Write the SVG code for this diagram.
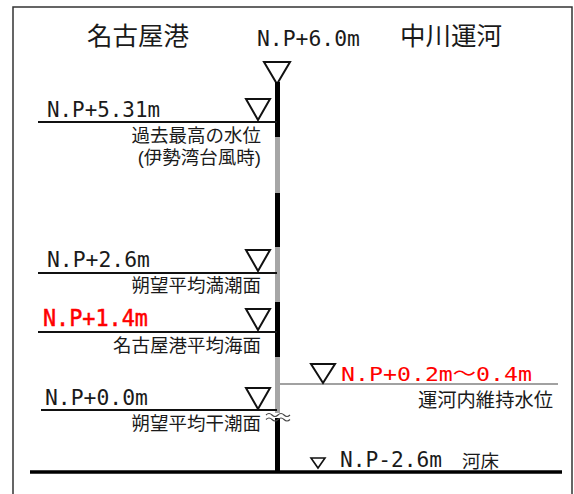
<svg xmlns="http://www.w3.org/2000/svg" width="574" height="494" viewBox="0 0 574 494">
<style>
.jp{font-family:"Noto Sans CJK JP","Noto Sans CJK SC",sans-serif;fill:#1a1a1a}
.jpc{font-family:"Liberation Sans","Noto Sans CJK JP","Noto Sans CJK SC",sans-serif;fill:#1a1a1a}
.np{font-family:"DejaVu Sans Mono","Noto Sans CJK JP",monospace;fill:#1a1a1a}
.red{fill:#ff0000}
.tri{fill:#fff;stroke:#111;stroke-width:2;stroke-linejoin:miter}
.lvl{stroke:#111;stroke-width:2}
.thin{stroke:#444;stroke-width:1.2}
</style>
<rect width="574" height="494" fill="#fff"/>
<rect x="13" y="7" width="559" height="500" fill="none" stroke="#333" stroke-width="1.5"/>

<g id="titles">
<text class="jp" x="87" y="45" font-size="25.5">名古屋港</text>
<text class="jp" x="400" y="45" font-size="25.5">中川運河</text>
<text class="np" x="257" y="46" font-size="22" textLength="103" lengthAdjust="spacingAndGlyphs">N.P+6.0m</text>
<polygon class="tri" points="264,62 290,62 277,84"/>
</g>

<g id="wall">
<rect x="275" y="82" width="5" height="55" fill="#000"/>
<rect x="275" y="137" width="5" height="56" fill="#a6a6a6"/>
<rect x="275" y="193" width="5" height="54" fill="#000"/>
<rect x="275" y="247" width="5" height="55" fill="#a6a6a6"/>
<rect x="275" y="302" width="5" height="55" fill="#000"/>
<rect x="275" y="357" width="5" height="56" fill="#a6a6a6"/>
<rect x="275" y="418" width="5" height="55" fill="#000"/>
<path d="M266,415 q3,-3 6,0 t6,0 t6,0 t6,0 M266,419.5 q3,-3 6,0 t6,0 t6,0 t6,0" fill="none" stroke="#444" stroke-width="1.1"/>
</g>

<g id="connectors">
<line class="lvl" x1="38" y1="122" x2="277" y2="122"/>
<line class="lvl" x1="38" y1="273" x2="277" y2="273"/>
<line class="lvl" x1="38" y1="332" x2="277" y2="332"/>
<line class="lvl" x1="41" y1="410" x2="277" y2="410"/>
<line class="thin" x1="280" y1="384" x2="558" y2="384"/>
<line stroke="#000" stroke-width="3.5" x1="30" y1="472" x2="562" y2="472"/>
</g>

<g id="level-531">
<polygon class="tri" points="246,99 270,99 258,120"/>
<text class="np" x="47" y="117" font-size="22" textLength="113" lengthAdjust="spacingAndGlyphs">N.P+5.31m</text>
<text class="jpc" x="261" y="141.5" font-size="18.5" text-anchor="end">過去最高の水位</text>
<text class="jpc" x="261" y="164" font-size="18.5" text-anchor="end">(伊勢湾台風時)</text>
</g>

<g id="level-26">
<polygon class="tri" points="246,250 270,250 258,271"/>
<text class="np" x="47" y="267" font-size="22" textLength="103" lengthAdjust="spacingAndGlyphs">N.P+2.6m</text>
<text class="jp" x="261" y="291.5" font-size="18.5" text-anchor="end">朔望平均満潮面</text>
</g>

<g id="level-14">
<polygon class="tri" points="246,309 270,309 258,330"/>
<text class="np red" x="43" y="326" font-size="23" textLength="105" lengthAdjust="spacingAndGlyphs" stroke="#ff0000" stroke-width="0.5">N.P+1.4m</text>
<text class="jp" x="261" y="351.5" font-size="18.5" text-anchor="end">名古屋港平均海面</text>
</g>

<g id="level-00">
<polygon class="tri" points="246,388 270,388 258,409"/>
<text class="np" x="45" y="405" font-size="22" textLength="103" lengthAdjust="spacingAndGlyphs">N.P+0.0m</text>
<text class="jp" x="261" y="430" font-size="18.5" text-anchor="end">朔望平均干潮面</text>
</g>

<g id="canal-level">
<polygon class="tri" points="311,364 335,364 323,383"/>
<text class="np red" x="341" y="381" font-size="20" textLength="191" lengthAdjust="spacingAndGlyphs">N.P+0.2m～0.4m</text>
<text class="jp" x="553" y="406.5" font-size="19.3" text-anchor="end">運河内維持水位</text>
</g>

<g id="riverbed">
<polygon points="311,458 325,458 318,468" fill="#fff" stroke="#111" stroke-width="1.6"/>
<text class="np" x="340" y="467" font-size="21" textLength="102" lengthAdjust="spacingAndGlyphs">N.P-2.6m</text>
<text class="jp" x="462" y="467.5" font-size="18.5">河床</text>
</g>
</svg>
